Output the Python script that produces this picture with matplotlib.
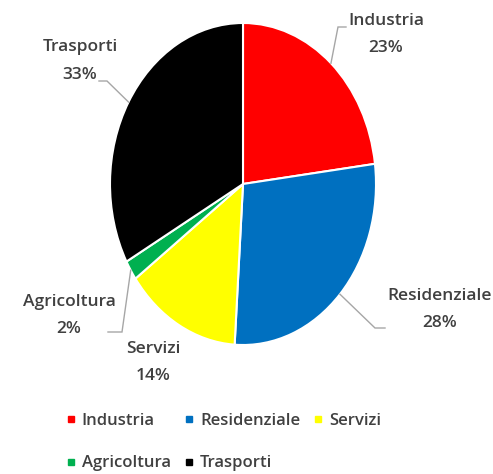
import matplotlib
matplotlib.use("Agg")
import matplotlib.pyplot as plt
import numpy as np
from matplotlib.lines import Line2D

categories = ["Industria", "Residenziale", "Servizi", "Agricoltura", "Trasporti"]
values = [23, 28, 14, 2, 33]
colors = ["#FF0000", "#0070C0", "#FFFF00", "#00B050", "#000000"]

W, H = 493, 474
fig = plt.figure(figsize=(W / 100, H / 100), dpi=100)
fig.patch.set_facecolor("white")

# pie axes (ellipse: stretched vertically like the reference)
L, R, T, B = 110, 376, 23, 345
ax = fig.add_axes([L / W, (H - B) / H, (R - L) / W, (B - T) / H])
wedges, _ = ax.pie(values, colors=colors, startangle=90, counterclock=False,
                   wedgeprops=dict(edgecolor="white", linewidth=1.5))
ax.set_xlim(-1, 1)
ax.set_ylim(-1, 1)
ax.set_aspect("auto")
ax.axis("off")

# overlay axes in pixel coordinates (y down)
ov = fig.add_axes([0, 0, 1, 1])
ov.set_xlim(0, W)
ov.set_ylim(H, 0)
ov.axis("off")

txt_color = "#404040"
font = dict(family=["Open Sans", "DejaVu Sans"], fontsize=12.5, fontweight="semibold",
            color=txt_color)

# label layout: (name center, pct center, elbow, end) in pixels
layout = {
    "Industria":    ((386, 21), (386, 48), (338, 27), (346, 27)),
    "Residenziale": ((440, 296), (440, 323), (375, 328), (385, 328)),
    "Servizi":      ((153, 349), (153, 376), None, None),
    "Agricoltura":  ((69, 302), (69, 329), (122, 332), (108, 332)),
    "Trasporti":    ((80, 47), (80, 75), (107, 81), (99, 81)),
}

for w, cat, val in zip(wedges, categories, values):
    name_c, pct_c, elbow, end = layout[cat]
    ov.text(*name_c, cat, ha="center", va="center", **font)
    ov.text(*pct_c, f"{val}%", ha="center", va="center", **font)
    if elbow is not None:
        mid = np.deg2rad((w.theta1 + w.theta2) / 2)
        disp = ax.transData.transform((np.cos(mid), np.sin(mid)))
        ax_pt = ov.transData.inverted().transform(disp)
        ov.plot([ax_pt[0], elbow[0], end[0]], [ax_pt[1], elbow[1], end[1]],
                color="#A6A6A6", lw=1.0, solid_joinstyle="miter")

# legend (row-major order in a 3-column layout)
handles = [Line2D([], [], marker="s", linestyle="none", markersize=5,
                  markerfacecolor=c, markeredgecolor=c) for c in colors]
order = [0, 3, 1, 4, 2]
leg = fig.legend([handles[i] for i in order], [categories[i] for i in order],
                 ncol=3, loc="center left", bbox_to_anchor=(51 / W, 1 - 442 / H),
                 frameon=False, handlelength=0.6, handletextpad=0.35,
                 columnspacing=0.8, labelspacing=1.6,
                 prop=dict(family=["Open Sans", "DejaVu Sans"], size=12, weight="semibold"))
for t in leg.get_texts():
    t.set_color(txt_color)

fig.savefig("out.png", dpi=100, facecolor="white")
